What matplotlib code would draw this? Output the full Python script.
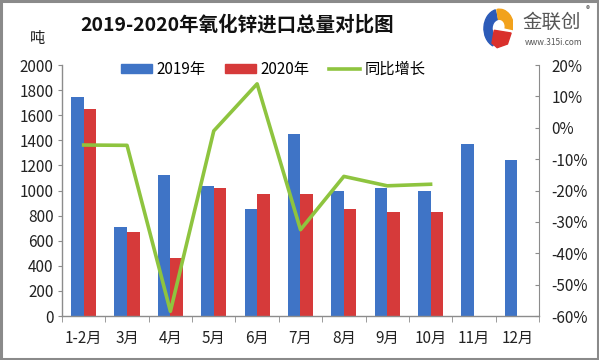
import matplotlib
matplotlib.use("Agg")
import matplotlib.pyplot as plt
import numpy as np
from matplotlib.patches import Wedge, Rectangle, Polygon
from matplotlib.lines import Line2D

plt.rcParams['font.family'] = ['Noto Sans CJK SC', 'DejaVu Sans']

categories = ['1-2月', '3月', '4月', '5月', '6月', '7月', '8月', '9月', '10月', '11月', '12月']
v2019 = [1745, 710, 1120, 1035, 850, 1450, 1000, 1020, 1000, 1370, 1245]
v2020 = [1650, 670, 465, 1020, 970, 975, 850, 825, 825]
growth = [-5.5, -5.6, -58.5, -1.0, 14.0, -32.5, -15.5, -18.5, -18.0]
left_ticks = [0, 200, 400, 600, 800, 1000, 1200, 1400, 1600, 1800, 2000]
right_ticks = [-60, -50, -40, -30, -20, -10, 0, 10, 20]

blue = '#3F74C6'
red = '#D63A3A'
green = '#8EC43F'
grey = '#8C8C8C'

fig = plt.figure(figsize=(5.99, 3.6), dpi=100)
fig.patch.set_facecolor('white')
# outer frame
fig.add_artist(Rectangle((0.002, 0.004), 0.996, 0.992, transform=fig.transFigure,
                         fill=False, edgecolor='#8a8a8a', lw=2.2))

ax = fig.add_axes([0.1035, 0.1222, 0.7963, 0.6972])
x = np.arange(len(categories))
w = 0.29
ax.bar(x - w/2, v2019, width=w, color=blue, label='2019年', zorder=2)
ax.bar(np.arange(len(v2020)) + w/2, v2020, width=w, color=red, label='2020年', zorder=2)
ax.set_xlim(-0.5, len(categories) - 0.5)
ax.set_ylim(0, 2000)
ax.set_yticks(left_ticks)
ax.set_yticklabels([str(t) for t in left_ticks], fontsize=11, color='#222222')
ax.set_xticks(x)
ax.set_xticklabels(categories, fontsize=11, color='#222222')
ax.set_xticks(np.arange(-0.5, len(categories), 1), minor=True)
ax.tick_params(axis='x', which='major', length=0, pad=10)
ax.tick_params(axis='x', which='minor', length=4, color=grey, direction='out')
ax.tick_params(axis='y', length=3, color=grey, direction='out', pad=3)
for s in ['top', 'right']:
    ax.spines[s].set_visible(False)
for s in ['left', 'bottom']:
    ax.spines[s].set_color(grey)
    ax.spines[s].set_linewidth(1)

ax2 = ax.twinx()
ax2.plot(np.arange(len(growth)), growth, color=green, lw=2.6, zorder=3, label='同比增长')
ax2.set_ylim(-60, 20)
ax2.set_yticks(right_ticks)
ax2.set_yticklabels(['%d%%' % t for t in right_ticks], fontsize=11, color='#222222')
ax2.tick_params(axis='y', length=3, color=grey, direction='in', pad=9)
for s in ['top', 'left', 'bottom']:
    ax2.spines[s].set_visible(False)
ax2.spines['right'].set_color(grey)

handles = [Rectangle((0, 0), 1, 1, color=blue), Rectangle((0, 0), 1, 1, color=red),
           Line2D([0], [0], color=green, lw=2.6)]
leg = ax2.legend(handles, ['2019年', '2020年', '同比增长'], loc='upper left',
                 bbox_to_anchor=(0.095, 1.07), ncol=3, frameon=False, fontsize=11,
                 handlelength=2.0, handleheight=0.5, columnspacing=1.3, handletextpad=0.3)

fig.text(0.396, 0.933, '2019-2020年氧化锌进口总量对比图', ha='center', va='center',
         fontsize=14, fontweight='bold', color='#111111')
fig.text(0.063, 0.892, '吨', ha='center', va='center', fontsize=11, color='#222222')

# logo
fig.text(0.873, 0.937, '金联创', ha='left', va='center', fontsize=14, color='#555555')
fig.text(0.876, 0.882, 'www.315i.com', ha='left', va='center', fontsize=6, color='#555555')
fig.text(0.981, 0.972, '®', ha='center', va='center', fontsize=6, color='#555555')
lg = fig.add_axes([0.803, 0.865, 0.054, 0.112])
lg.set_xlim(-1.1, 1.1); lg.set_ylim(-1.1, 1.1); lg.axis('off')
lg.add_patch(Wedge((0.15, 0.0), 1.05, 105, 245, width=0.55, color='#2C5BB8'))
lg.add_patch(Wedge((0.15, 0.1), 0.95, -10, 100, width=0.55, color='#F2A21C'))
lg.add_patch(Polygon([[-0.2, -0.1], [0.95, -0.25], [0.7, -0.85], [0.0, -1.05], [-0.35, -0.8]], color='#D9302C'))

fig.savefig('out.png', dpi=100)
